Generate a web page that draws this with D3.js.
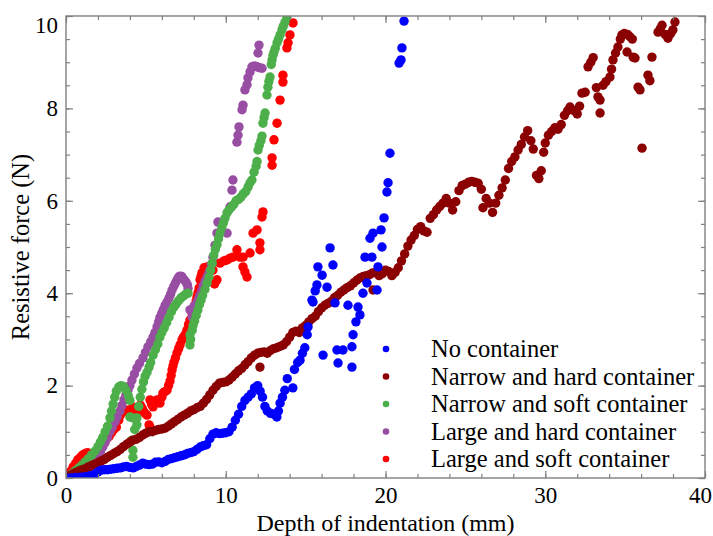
<!DOCTYPE html>
<html><head><meta charset="utf-8">
<script src="https://cdn.jsdelivr.net/npm/d3@7"></script>
<style>
body{margin:0;background:#fff;}
svg text{font-family:"Liberation Serif","Times New Roman",Times,"DejaVu Serif",serif;fill:#000;}
</style></head>
<body><svg id="c" width="713" height="536"></svg>
<script>
// ---------- data ----------
const seriesNames = ["No container","Narrow and hard container","Narrow and soft container","Large and hard container","Large and soft container"];
const seriesColors = ["#0000ff","#8b0000","#4daf4a","#984ea3","#ff0000"];
const xTickValues = [0,10,20,30,40];
const yTickValues = [0,2,4,6,8,10];
const xLabel = "Depth of indentation (mm)";
const yLabel = "Resistive force (N)";

const noContainer = [[0,0],[0.3,0],[0.6,0.01],[0.9,0.02],[1.2,0.03],[1.5,0.05],[1.8,0.08],[2.0,0.13],[2.2,0.17],[2.4,0.18],[2.6,0.18],[2.8,0.19],[3.0,0.2],[3.2,0.21],[3.4,0.22],[3.6,0.24],[3.8,0.25],[4.0,0.23],[4.2,0.22],[4.4,0.25],[4.6,0.28],[4.8,0.32],[5.0,0.3],[5.2,0.29],[5.4,0.3],[5.6,0.34],[5.8,0.35],[6.0,0.33],[6.2,0.36],[6.4,0.4],[6.6,0.42],[6.8,0.44],[7.0,0.46],[7.2,0.48],[7.4,0.5],[7.6,0.53],[7.8,0.55],[8.0,0.57],[8.2,0.62],[8.4,0.67],[8.6,0.7],[8.8,0.72],[9.0,0.85],[9.2,0.95],[9.4,0.98],[9.6,0.96],[9.8,0.97],[10.0,0.98],[10.2,1.0],[10.4,1.1],[10.6,1.25],[10.8,1.38],[11.0,1.55],[11.2,1.68],[11.4,1.75],[11.6,1.82],[11.8,1.95],[12.0,2.0],[12.15,1.88],[12.3,1.75],[12.45,1.55],[12.6,1.45],[12.8,1.4],[13.0,1.38],[13.2,1.32],[13.3,1.45],[13.4,1.62],[13.55,1.75],[13.7,1.9],[13.85,2.15],[14.2,1.95],[14.3,2.35],[14.5,2.5],[14.65,2.55],[14.8,2.7],[14.95,2.82],[15.1,3.1],[15.15,3.27],[15.4,3.85],[15.46,3.81],[15.6,4.05],[15.71,4.18],[15.77,4.57],[16.03,4.39],[16.34,4.13],[16.53,4.98],[16.71,4.61],[16.84,3.79],[16.09,2.66],[16.96,2.77],[17.03,2.49],[17.34,2.77],[17.65,3.74],[17.9,2.84],[17.9,2.4],[17.97,3.1],[18.15,3.38],[18.28,3.7],[18.4,3.53],[18.59,4.0],[18.72,4.78],[18.84,4.22],[19.03,5.19],[19.15,4.78],[19.22,5.3],[19.47,4.07],[19.53,4.57],[19.72,5.37],[19.78,5.0],[19.91,5.63],[20.09,6.19],[20.16,6.39],[20.28,7.03],[20.85,8.98],[20.97,9.05],[21.03,9.31],[21.16,9.89]];

const narrowHard = [[0,0.02],[0.2,0.05],[0.4,0.08],[0.6,0.12],[0.8,0.15],[1.0,0.18],[1.2,0.2],[1.4,0.24],[1.6,0.27],[1.8,0.3],[2.0,0.33],[2.2,0.37],[2.4,0.4],[2.6,0.45],[2.8,0.49],[3.0,0.53],[3.2,0.57],[3.4,0.62],[3.6,0.68],[3.8,0.73],[4.0,0.78],[4.2,0.82],[4.4,0.84],[4.6,0.88],[4.8,0.93],[5.0,0.97],[5.2,1.0],[5.4,1.0],[5.6,1.03],[5.8,1.05],[6.0,1.06],[6.2,1.08],[6.4,1.12],[6.6,1.17],[6.8,1.22],[7.0,1.27],[7.2,1.32],[7.4,1.36],[7.6,1.4],[7.8,1.45],[8.0,1.48],[8.2,1.52],[8.4,1.55],[8.6,1.62],[8.8,1.7],[9.0,1.8],[9.2,1.9],[9.4,1.98],[9.6,2.05],[9.8,2.07],[10.0,2.08],[10.2,2.12],[10.4,2.18],[10.6,2.25],[10.8,2.32],[11.0,2.37],[11.2,2.45],[11.4,2.52],[11.6,2.6],[11.8,2.66],[12.0,2.7],[12.2,2.72],[12.14,2.4],[12.4,2.73],[12.6,2.7],[12.8,2.76],[13.0,2.8],[13.2,2.82],[13.4,2.85],[13.6,2.88],[13.8,2.95],[14.0,3.05],[14.2,3.15],[14.4,3.18],[14.6,3.15],[14.8,3.25],[15.0,3.3],[15.2,3.38],[15.4,3.45],[15.6,3.5],[15.8,3.6],[16.0,3.68],[16.2,3.74],[16.4,3.78],[16.6,3.82],[16.8,3.9],[17.0,3.95],[17.2,4.02],[17.4,4.07],[17.6,4.12],[17.8,4.16],[18.0,4.22],[18.2,4.28],[18.4,4.33],[18.6,4.36],[18.8,4.38],[19.0,4.4],[19.2,4.44],[19.22,4.07],[19.4,4.45],[19.6,4.38],[19.8,4.42],[20.0,4.5],[20.2,4.47],[20.4,4.38],[20.6,4.45],[20.8,4.55],[21.0,4.7],[21.2,4.85],[21.4,5.02],[21.6,5.15],[21.8,5.25],[22.0,5.38],[22.2,5.44],[22.4,5.35],[22.6,5.32],[22.8,5.62],[23.0,5.7],[23.2,5.8],[23.4,5.88],[23.6,5.95],[23.8,6.05],[24.0,5.95],[24.2,5.8],[24.4,5.98],[24.6,6.22],[24.8,6.33],[25.0,6.36],[25.2,6.4],[25.4,6.42],[25.6,6.4],[25.8,6.38],[26.0,6.25],[26.1,5.85],[26.3,6.05],[26.5,5.95],[26.7,5.75],[26.9,5.95],[27.1,6.12],[27.3,6.28],[27.5,6.45],[27.7,6.7],[27.9,6.85],[28.1,6.95],[28.3,7.1],[28.5,7.22],[28.7,7.38],[28.9,7.52],[29.1,7.3],[29.25,7.12],[29.45,6.55],[29.6,6.48],[29.75,6.65],[29.9,7.05],[30.0,7.25],[30.2,7.42],[30.4,7.5],[30.6,7.58],[30.8,7.55],[31.0,7.65],[31.2,7.85],[31.4,7.95],[31.55,8.03],[31.8,7.95],[32.0,7.88],[32.15,8.05],[32.3,8.33],[32.5,8.35],[32.68,8.9],[32.85,9.0],[33.0,9.1],[33.2,8.45],[33.3,8.25],[33.43,8.18],[33.43,7.9],[33.62,8.5],[33.8,8.58],[34.05,8.68],[34.15,8.85],[34.24,9.05],[34.4,9.2],[34.55,9.33],[34.7,9.5],[34.8,9.59],[34.95,9.62],[35.12,9.22],[35.15,9.6],[35.3,9.55],[35.45,9.5],[35.5,9.11],[35.62,9.09],[35.81,8.46],[35.93,8.4],[36.06,7.14],[36.43,8.72],[36.55,8.6],[36.68,9.11],[37.06,9.65],[37.2,9.72],[37.31,9.8],[37.5,9.6],[37.68,9.52],[37.85,9.62],[37.99,9.7],[38.12,9.87]];

const narrowSoft = [[0,0],[0.2,0.05],[0.4,0.1],[0.6,0.16],[0.8,0.22],[1.0,0.28],[1.2,0.35],[1.4,0.42],[1.6,0.5],[1.8,0.58],[2.0,0.68],[2.15,0.78],[2.3,0.88],[2.45,1.0],[2.6,1.12],[2.75,1.3],[2.85,1.45],[2.95,1.6],[3.05,1.75],[3.15,1.88],[3.3,1.97],[3.45,2.0],[3.6,1.98],[3.75,1.9],[3.9,1.78],[4.0,1.68],[4.0,1.32],[4.19,1.3],[4.13,0.82],[4.19,0.6],[4.19,0.45],[4.3,1.05],[4.44,1.15],[4.44,1.3],[4.55,1.55],[4.65,1.75],[4.75,1.92],[4.85,2.08],[4.95,2.2],[5.07,2.29],[5.2,2.4],[5.3,2.5],[5.45,2.66],[5.6,2.78],[5.75,2.9],[5.88,3.05],[6.0,3.15],[6.15,3.25],[6.3,3.36],[6.45,3.48],[6.6,3.6],[6.75,3.7],[6.9,3.77],[7.05,3.84],[7.2,3.9],[7.35,3.94],[7.5,3.98],[7.64,4.0],[7.76,2.88],[7.8,3.0],[7.76,3.1],[7.9,3.2],[7.95,3.3],[8.05,3.4],[8.15,3.52],[8.25,3.63],[8.35,3.75],[8.45,3.85],[8.55,3.95],[8.7,4.08],[8.83,4.22],[8.95,4.35],[9.05,4.5],[9.15,4.65],[9.25,4.82],[9.35,4.95],[9.45,5.05],[9.55,5.18],[9.64,5.3],[9.75,5.42],[9.85,5.52],[9.95,5.62],[10.08,5.74],[10.2,5.8],[10.35,5.86],[10.5,5.92],[10.65,6.0],[10.8,6.03],[10.95,6.08],[11.1,6.15],[11.25,6.2],[11.4,6.3],[11.52,6.39],[11.64,6.45],[11.77,6.62],[11.9,6.75],[11.96,6.85],[12.02,7.1],[12.1,7.2],[12.2,7.3],[12.27,7.4],[12.33,7.68],[12.4,7.8],[12.46,7.9],[12.58,8.29],[12.64,8.46],[12.7,8.58],[12.77,8.68],[12.85,8.95],[12.9,9.05],[12.96,9.15],[13.02,9.22],[13.1,9.3],[13.21,9.42],[13.3,9.5],[13.4,9.59],[13.52,9.7],[13.6,9.78],[13.71,9.87],[13.83,9.98]];

const largeHard = [[0,0],[0.3,0.05],[0.6,0.1],[0.9,0.14],[1.2,0.18],[1.45,0.23],[1.65,0.29],[1.85,0.38],[2.0,0.47],[2.15,0.57],[2.3,0.67],[2.45,0.77],[2.6,0.88],[2.75,1.0],[2.9,1.1],[3.07,1.22],[3.2,1.32],[3.38,1.45],[3.5,1.57],[3.63,1.69],[3.75,1.8],[3.88,1.9],[4.0,2.0],[4.13,2.12],[4.28,2.25],[4.44,2.38],[4.6,2.48],[4.82,2.6],[4.97,2.72],[5.13,2.84],[5.3,2.95],[5.45,3.05],[5.57,3.15],[5.7,3.27],[5.8,3.38],[5.88,3.48],[6.0,3.57],[6.1,3.65],[6.2,3.73],[6.32,3.81],[6.45,3.9],[6.55,3.98],[6.64,4.07],[6.75,4.15],[6.85,4.22],[6.95,4.29],[7.05,4.35],[7.14,4.37],[7.25,4.36],[7.32,4.32],[7.42,4.28],[7.51,4.24],[7.6,4.18],[7.64,4.1],[7.76,3.64],[7.89,3.48],[8.01,3.72],[8.2,3.81],[8.3,3.88],[8.39,3.96],[8.5,4.05],[8.58,4.16],[8.7,4.25],[8.83,4.35],[8.92,4.42],[9.01,4.5],[9.1,4.62],[9.2,4.78],[9.33,5.04],[9.45,5.3],[9.51,5.54],[10.08,5.3],[10.27,5.87],[10.39,6.23],[10.45,6.45],[10.7,7.27],[10.77,7.42],[10.83,7.6],[11.02,7.97],[11.08,8.07],[11.2,8.4],[11.33,8.51],[11.39,8.66],[11.52,8.79],[11.64,8.9],[11.8,8.92],[11.96,8.9],[12.1,8.88],[12.27,8.87],[12.02,9.2],[12.08,9.37]];

const largeSoft = [[0,0.02],[0.15,0.08],[0.3,0.15],[0.45,0.24],[0.6,0.32],[0.75,0.4],[0.9,0.45],[1.05,0.5],[1.2,0.53],[1.35,0.55],[1.5,0.5],[1.65,0.42],[1.8,0.45],[1.95,0.52],[2.1,0.6],[2.25,0.68],[2.4,0.76],[2.55,0.85],[2.7,0.9],[2.85,0.98],[3.0,1.05],[3.15,1.1],[3.3,1.25],[3.4,1.36],[3.55,1.43],[3.7,1.46],[3.85,1.47],[4.0,1.41],[4.1,1.48],[4.19,1.54],[4.3,1.48],[4.44,1.41],[4.55,1.5],[4.65,1.58],[4.75,1.52],[4.82,1.47],[4.95,1.4],[5.07,1.36],[5.2,1.15],[5.26,1.1],[5.26,1.69],[5.35,1.6],[5.45,1.54],[5.58,1.62],[5.7,1.69],[5.8,1.65],[5.88,1.62],[6.0,1.75],[6.07,1.84],[6.2,1.87],[6.32,1.9],[6.42,2.0],[6.51,2.1],[6.58,2.22],[6.64,2.34],[6.7,2.43],[6.76,2.51],[6.85,2.6],[6.95,2.71],[7.05,2.8],[7.14,2.88],[7.26,2.99],[7.35,3.05],[7.45,3.1],[7.57,3.2],[7.67,3.32],[7.76,3.42],[7.89,3.57],[7.98,3.66],[8.08,3.74],[8.15,3.83],[8.2,3.92],[8.27,4.02],[8.33,4.11],[8.39,4.29],[8.45,4.36],[8.51,4.44],[8.64,4.55],[8.83,4.57],[9.01,4.55],[9.2,4.5],[9.3,4.2],[9.45,4.29],[9.64,4.65],[9.89,4.7],[10.08,4.72],[10.27,4.76],[10.45,4.78],[10.7,4.94],[10.89,4.78],[11.08,4.57],[11.2,4.46],[11.33,4.35],[11.08,4.78],[11.52,4.87],[11.71,5.3],[11.96,5.37],[12.14,5.09],[12.14,4.94],[12.27,5.65],[12.33,5.76],[12.9,6.93],[12.9,6.77],[13.02,7.32],[13.21,7.68],[13.4,8.18],[13.58,8.57],[13.58,8.72],[13.83,9.31],[13.9,9.42],[14.02,9.59],[14.21,9.85]];

const allSeries = [noContainer, narrowHard, narrowSoft, largeHard, largeSoft];

// ---------- layout ----------
const W = 713, H = 536;
const FONT = "'Liberation Serif','Times New Roman',Times,'DejaVu Serif',serif";
const m = {left:66, right:8, top:16, bottom:58};
const svg = d3.select("#c");
const x = d3.scaleLinear().domain([0,40]).range([m.left, W - m.right]);
const y = d3.scaleLinear().domain([0,10]).range([H - m.bottom, m.top]);
const axisColor = "#808080";

svg.append("defs").append("clipPath").attr("id","clip")
  .append("rect").attr("x", x(0)).attr("y", y(10)).attr("width", x(40)-x(0)).attr("height", y(0)-y(10));

// points (drawn in reverse legend order so earlier series sit on top)
const pts = svg.append("g").attr("clip-path","url(#clip)");
for (let i = allSeries.length - 1; i >= 0; i--) {
  pts.append("g").selectAll("circle").data(allSeries[i]).join("circle")
    .attr("cx", d => x(d[0])).attr("cy", d => y(d[1])).attr("r", 4.7)
    .attr("fill", seriesColors[i]);
}

// axes
function styleAxis(g){
  g.select(".domain").remove();
  g.selectAll("line").attr("stroke", axisColor).attr("stroke-width", 1.2);
  g.attr("font-family", null).attr("font-size", null);
  g.selectAll("text").attr("font-family", FONT).attr("font-size", 23).attr("fill","#000");
}
const xMinor = d3.range(0, 40.01, 2);
const yMinor = d3.range(0, 10.01, 0.5);
const pBottom = y(0), pTop = y(10), pLeft = x(0), pRight = x(40);

const gxb = svg.append("g").attr("transform",`translate(0,${pBottom})`)
  .call(d3.axisBottom(x).tickValues(xTickValues).tickSize(-7).tickPadding(9).tickFormat(d3.format("d")));
styleAxis(gxb);
gxb.selectAll(".tick").filter(d => d === 40).select("text").attr("dx", -5);
const gxbm = svg.append("g").attr("transform",`translate(0,${pBottom})`)
  .call(d3.axisBottom(x).tickValues(xMinor).tickSize(-4).tickFormat(""));
styleAxis(gxbm);
const gxt = svg.append("g").attr("transform",`translate(0,${pTop})`)
  .call(d3.axisTop(x).tickValues(xTickValues).tickSize(-7).tickFormat(""));
styleAxis(gxt);
const gxtm = svg.append("g").attr("transform",`translate(0,${pTop})`)
  .call(d3.axisTop(x).tickValues(xMinor).tickSize(-4).tickFormat(""));
styleAxis(gxtm);

const gyl = svg.append("g").attr("transform",`translate(${pLeft},0)`)
  .call(d3.axisLeft(y).tickValues(yTickValues).tickSize(-7).tickPadding(8).tickFormat(d3.format("d")));
styleAxis(gyl);
gyl.selectAll(".tick").filter(d => d === 10).select("text").attr("dy","0.7em");
const gylm = svg.append("g").attr("transform",`translate(${pLeft},0)`)
  .call(d3.axisLeft(y).tickValues(yMinor).tickSize(-4).tickFormat(""));
styleAxis(gylm);
const gyr = svg.append("g").attr("transform",`translate(${pRight},0)`)
  .call(d3.axisRight(y).tickValues(yTickValues).tickSize(-7).tickFormat(""));
styleAxis(gyr);
const gyrm = svg.append("g").attr("transform",`translate(${pRight},0)`)
  .call(d3.axisRight(y).tickValues(yMinor).tickSize(-4).tickFormat(""));
styleAxis(gyrm);

// frame
svg.append("rect").attr("x", pLeft).attr("y", pTop).attr("width", pRight-pLeft).attr("height", pBottom-pTop)
  .attr("fill","none").attr("stroke", axisColor).attr("stroke-width", 1.4);

// axis titles
svg.append("text").attr("x", (pLeft+pRight)/2).attr("y", 530.5).attr("text-anchor","middle")
  .attr("font-family", FONT).attr("font-size", 24).text(xLabel);
svg.append("text").attr("transform",`translate(29,${(pTop+pBottom)/2}) rotate(-90)`).attr("text-anchor","middle")
  .attr("font-family", FONT).attr("font-size", 24.5).text(yLabel);

// legend
const lg = svg.append("g");
seriesNames.forEach((name, i) => {
  const cy = 349 + i*27.5;
  lg.append("circle").attr("cx", 386).attr("cy", cy).attr("r", 3.3).attr("fill", seriesColors[i]);
  lg.append("text").attr("x", 431).attr("y", cy + 8).attr("font-family", FONT).attr("font-size", 24.5).text(name);
});
</script></body></html>
